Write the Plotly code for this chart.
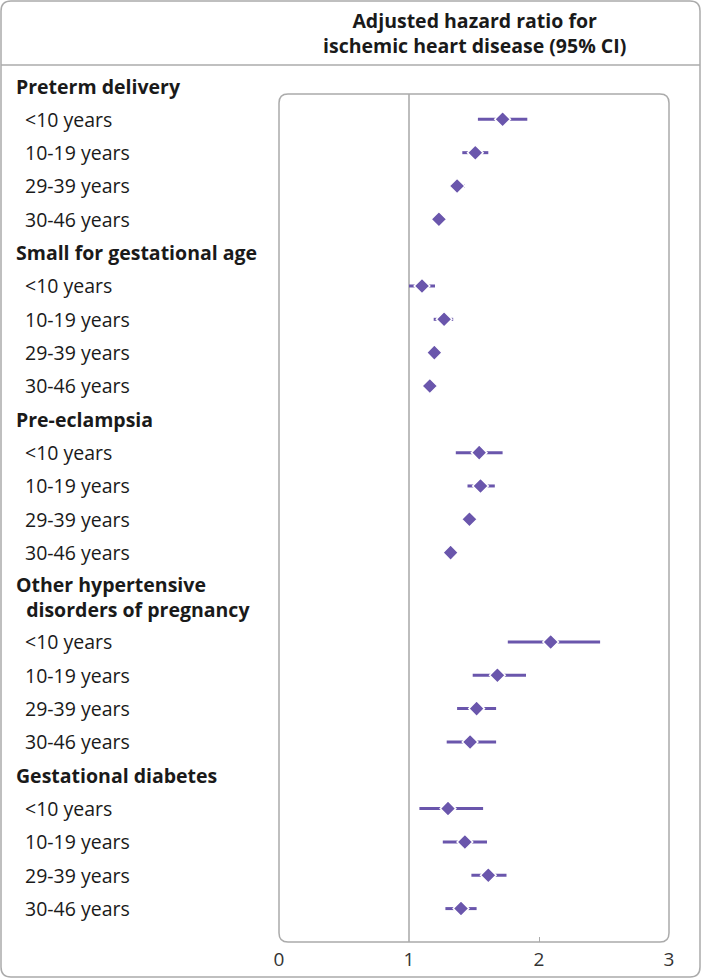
import plotly.graph_objects as go

# ---------------- data ----------------
groups = ["Preterm delivery", "Small for gestational age", "Pre-eclampsia",
          "Other hypertensive disorders of pregnancy", "Gestational diabetes"]
group_lines = [["Preterm delivery"], ["Small for gestational age"], ["Pre-eclampsia"],
               ["Other hypertensive", "disorders of pregnancy"], ["Gestational diabetes"]]
periods = ["<10 years", "10-19 years", "29-39 years", "30-46 years"]

hr = [
    [1.72, 1.51, 1.37, 1.23],
    [1.10, 1.27, 1.195, 1.16],
    [1.54, 1.55, 1.465, 1.32],
    [2.09, 1.68, 1.52, 1.47],
    [1.30, 1.43, 1.61, 1.40],
]
lo = [
    [1.53, 1.41, 1.315, 1.20],
    [1.00, 1.19, 1.17, 1.14],
    [1.36, 1.45, 1.44, 1.30],
    [1.76, 1.49, 1.37, 1.29],
    [1.08, 1.26, 1.48, 1.28],
]
hi = [
    [1.91, 1.61, 1.43, 1.26],
    [1.20, 1.34, 1.22, 1.19],
    [1.72, 1.66, 1.49, 1.34],
    [2.47, 1.90, 1.67, 1.67],
    [1.57, 1.60, 1.75, 1.52],
]
x_ticks = [0, 1, 2, 3]
x_tick_labels = ["0", "1", "2", "3"]

# ---------------- layout helpers ----------------
FIG_W, FIG_H = 702, 979
L, R, T, B = 279, 33, 94, 37
W = FIG_W - L - R
H = FIG_H - T - B
PURPLE = "#6A56AC"
GREY = "#ABABAB"
TXT = "#1A1A1A"
FONT = "Open Sans"
ROW_PX = 33.33

yr_top = 0.24
yr_bot = yr_top + H / ROW_PX


def px2x(px):
    return (px - L) / W


def py2y(py):
    return 1 - (py - T) / H


def row2paper(r):
    return (yr_bot - r) / (yr_bot - yr_top)


def rounded_rect(x0, y0, x1, y1, r):
    def p(px, py):
        return f"{px2x(px):.5f},{py2y(py):.5f}"
    return (f"M {p(x0 + r, y0)} L {p(x1 - r, y0)} Q {p(x1, y0)} {p(x1, y0 + r)} "
            f"L {p(x1, y1 - r)} Q {p(x1, y1)} {p(x1 - r, y1)} "
            f"L {p(x0 + r, y1)} Q {p(x0, y1)} {p(x0, y1 - r)} "
            f"L {p(x0, y0 + r)} Q {p(x0, y0)} {p(x0 + r, y0)} Z")


# row positions (row units, top = 0)
ys, xs, ep, em = [], [], [], []
annotations = []
pos = 0.0
for gi, lines in enumerate(group_lines):
    extra = 0.68 * (len(lines) - 1)
    text = "<br>".join(("&nbsp;&nbsp;" if li > 0 else "") + f"<b>{ln}</b>"
                       for li, ln in enumerate(lines))
    annotations.append(dict(
        xref="paper", yref="paper", x=px2x(14), y=row2paper(pos + extra / 2),
        text=text, showarrow=False, xanchor="left", yanchor="middle", align="left",
        font=dict(family=FONT, size=19.5, color=TXT)))
    pos += 1 + extra
    for pi, per in enumerate(periods):
        annotations.append(dict(
            xref="paper", yref="paper", x=px2x(23), y=row2paper(pos),
            text=per, showarrow=False, xanchor="left", yanchor="middle",
            font=dict(family=FONT, size=19.5, color=TXT)))
        ys.append(pos)
        xs.append(hr[gi][pi])
        ep.append(hi[gi][pi] - hr[gi][pi])
        em.append(hr[gi][pi] - lo[gi][pi])
        pos += 1

fig = go.Figure()
fig.add_trace(go.Scatter(
    x=xs, y=ys, mode="markers",
    marker=dict(symbol="diamond", size=12, color=PURPLE, line=dict(color="white", width=1.5)),
    error_x=dict(type="data", symmetric=False, array=ep, arrayminus=em,
                 thickness=3, width=0, color=PURPLE),
    cliponaxis=False, hoverinfo="x+y", showlegend=False))
# invisible trace for the secondary (tick-only) axis
fig.add_trace(go.Scatter(x=[2], y=[ys[0]], xaxis="x2", mode="markers",
                         marker=dict(opacity=0), showlegend=False, hoverinfo="skip"))

annotations.append(dict(
    xref="paper", yref="paper", x=px2x(474), y=py2y(33),
    text="<b>Adjusted hazard ratio for<br>ischemic heart disease (95% CI)</b>",
    showarrow=False, xanchor="center", yanchor="middle", align="center",
    font=dict(family=FONT, size=19.5, color=TXT)))

shapes = [
    # outer frame
    dict(type="path", xref="paper", yref="paper", path=rounded_rect(1, 1, 700, 977, 10),
         line=dict(color=GREY, width=1.5)),
    # header separator
    dict(type="line", xref="paper", yref="paper", x0=px2x(1), x1=px2x(700),
         y0=py2y(65), y1=py2y(65), line=dict(color=GREY, width=1.5)),
    # plot box
    dict(type="path", xref="paper", yref="paper", path=rounded_rect(L, T, L + W, T + H, 9),
         line=dict(color=GREY, width=1.5)),
    # reference line at HR = 1
    dict(type="line", xref="x", yref="paper", x0=1, x1=1, y0=0, y1=1,
         line=dict(color="#9A9A9A", width=1.3), layer="below"),
]

fig.update_layout(
    width=FIG_W, height=FIG_H,
    margin=dict(l=L, r=R, t=T, b=B, autoexpand=False),
    paper_bgcolor="white", plot_bgcolor="white",
    xaxis=dict(range=[0, 3], tickvals=x_ticks, ticktext=x_tick_labels, showgrid=False,
               zeroline=False, showline=False, ticks="", fixedrange=True,
               ticklabelstandoff=4,
               tickfont=dict(family=FONT, size=19, color="#333333")),
    xaxis2=dict(range=[0, 3], overlaying="x", side="bottom", tickvals=[2], ticks="inside",
                ticklen=5, tickwidth=1.2, tickcolor=GREY, showticklabels=False,
                showgrid=False, zeroline=False, showline=False, anchor="y"),
    yaxis=dict(range=[yr_bot, yr_top], showticklabels=False, showgrid=False,
               zeroline=False, showline=False, ticks="", fixedrange=True),
    shapes=shapes, annotations=annotations,
    font=dict(family=FONT, color=TXT),
)

fig.write_html("out.html", config={"displayModeBar": False},
               post_script="document.body.style.margin='0';document.body.style.padding='0';")
